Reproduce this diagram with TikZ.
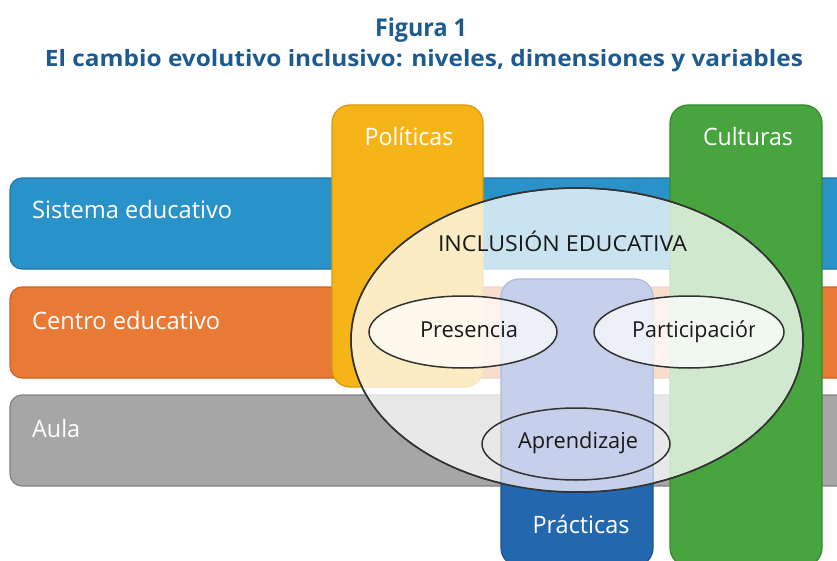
\documentclass[tikz,border=0pt]{standalone}
\usepackage{fontspec}
\usepackage{graphicx}
\setmainfont{Open Sans}
\newfontfamily\titlefont{Open Sans}
\definecolor{titleblue}{HTML}{1D5A90}
\definecolor{sisblue}{HTML}{2993C9}
\definecolor{sisblueD}{HTML}{1F76A6}
\definecolor{cenor}{HTML}{E97A36}
\definecolor{cenorD}{HTML}{C8622A}
\definecolor{aulg}{HTML}{A6A6A6}
\definecolor{aulgD}{HTML}{818181}
\definecolor{polY}{HTML}{F5B518}
\definecolor{polYD}{HTML}{D89A0C}
\definecolor{culG}{HTML}{47A43F}
\definecolor{culGD}{HTML}{378A33}
\definecolor{praB}{HTML}{2368AE}
\definecolor{praBD}{HTML}{1B5390}
\definecolor{praL}{HTML}{C6D0EA}
\definecolor{praLD}{HTML}{A9B8DE}
\definecolor{ellline}{HTML}{333333}
\tikzset{
  band/.style={rounded corners=12pt, line width=1.2pt},
  colbox/.style={rounded corners=18pt, line width=1.2pt},
  lbl/.style={text=white, font=\fontsize{24}{28}\selectfont, inner sep=0pt},
  inlbl/.style={text=black!90, font=\fontsize{22}{26}\selectfont, inner sep=0pt},
  ell/.style={draw=ellline, line width=1.5pt},
  ttl/.style={text=titleblue, font=\titlefont\bfseries, inner sep=0pt}
}
\begin{document}
\begin{tikzpicture}[x=1pt,y=-1pt]
\useasboundingbox (0,0) rectangle (837,561);
\clip (0,0) rectangle (837,561);
% title
\node[ttl, anchor=base] (fig) at (421,37) {\fontsize{24.5}{28}\selectfont\resizebox{92pt}{\height}{Figura 1}};
\node[ttl, anchor=base] (tit) at (424,67) {\fontsize{22.5}{26}\selectfont\resizebox{758pt}{\height}{El cambio evolutivo inclusivo: niveles, dimensiones y variables}};
% levels
\path[band, fill=sisblue, draw=sisblueD] (10,178) rectangle (850,269);
\path[band, fill=cenor, draw=cenorD] (10,287) rectangle (850,378);
\path[band, fill=aulg, draw=aulgD] (10,395) rectangle (850,486);
% dimensions
\path[colbox, fill=polY, draw=polYD] (332,105) rectangle (483,387);
\path[colbox, fill=culG, draw=culGD] (670,105) rectangle (822,566);
\path[colbox, fill=praB, draw=praBD] (501,279) rectangle (653,566);
% labels
\node[lbl, anchor=base west] (sis) at (32,219) {\resizebox{200pt}{\height}{Sistema educativo}};
\node[lbl, anchor=base west] (cen) at (32,329) {\resizebox{188pt}{\height}{Centro educativo}};
\node[lbl, anchor=base west] (aul) at (32,437) {\resizebox{48pt}{\height}{Aula}};
\node[lbl, anchor=base] (pol) at (409,146) {\resizebox{89pt}{\height}{Políticas}};
\node[lbl, anchor=base] (cul) at (748,146) {\resizebox{90pt}{\height}{Culturas}};
\node[lbl, anchor=base] (pra) at (581,533) {\resizebox{97pt}{\height}{Prácticas}};
% inclusion
\path[ell, fill=white, fill opacity=0.75] (577,340) ellipse [x radius=226, y radius=152];
\begin{scope}
\clip (577,340) ellipse [x radius=226, y radius=152];
\path[colbox, fill=praL, draw=praLD, line width=1pt] (501,279) rectangle (653,566);
\end{scope}
\path[ell] (577,340) ellipse [x radius=226, y radius=152];
\path[ell, fill=white, fill opacity=0.7] (463,332) ellipse [x radius=94, y radius=36];
\path[ell, fill=white, fill opacity=0.7] (689,332) ellipse [x radius=95, y radius=36];
\path[ell] (576,444) ellipse [x radius=94, y radius=36];
\node[inlbl, anchor=base] (inc) at (562.5,251) {\resizebox{249pt}{\height}{INCLUSIÓN EDUCATIVA}};
\node[inlbl, anchor=base] (pre) at (469,337) {\resizebox{98pt}{\height}{Presencia}};
\begin{scope}
\clip (600,300) rectangle (754.5,362);
\node[inlbl, anchor=base west] (par) at (632,337) {\resizebox{129pt}{\height}{Participación}};
\end{scope}
\node[inlbl, anchor=base] (apr) at (578,448) {\resizebox{120pt}{\height}{Aprendizaje}};
\end{tikzpicture}
\end{document}
